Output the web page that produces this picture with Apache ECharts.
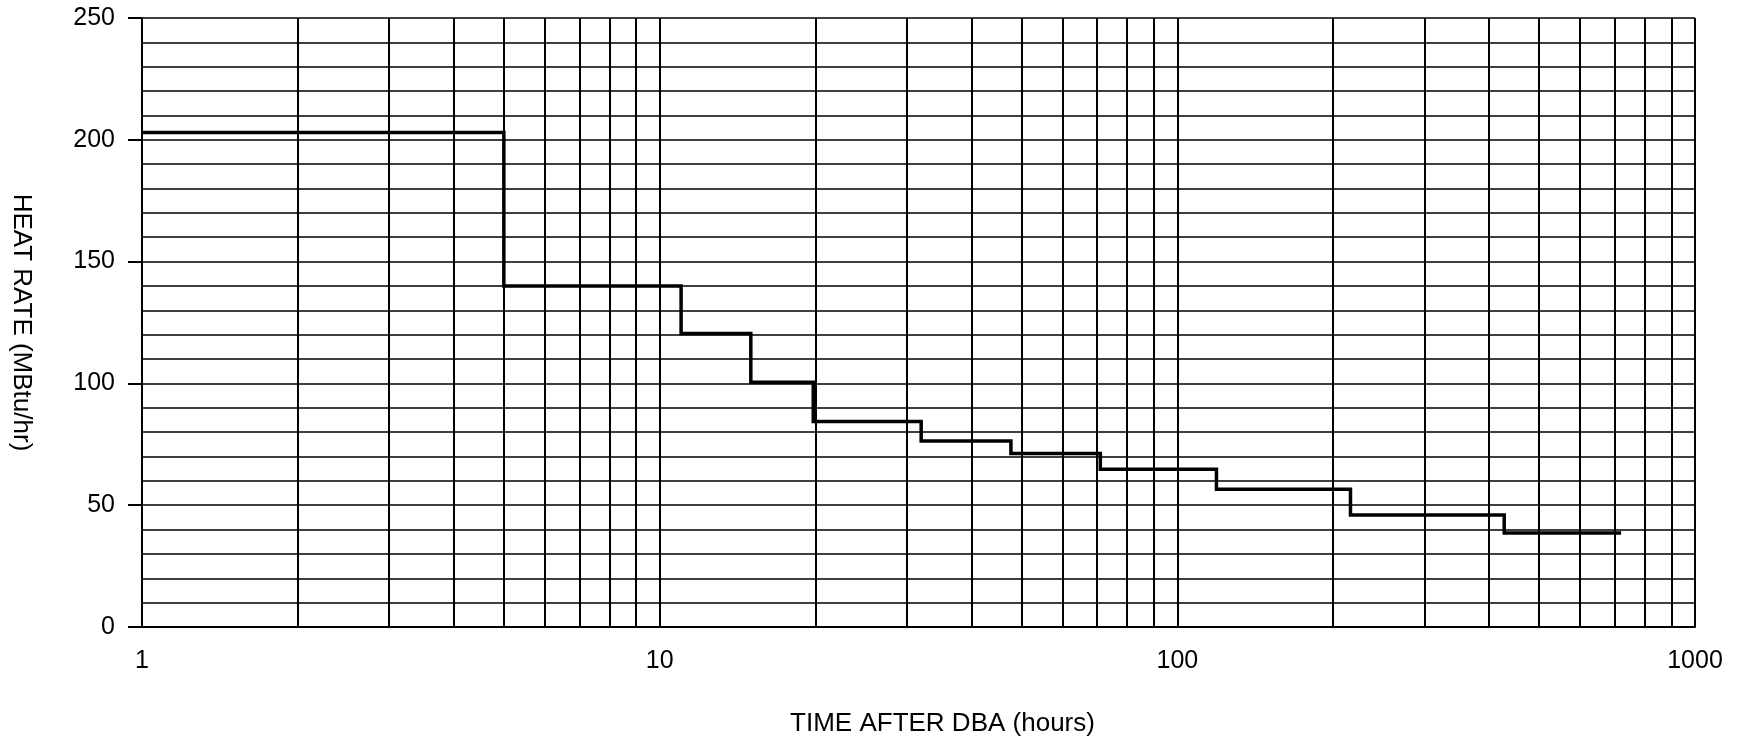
<!DOCTYPE html>
<html><head><meta charset="utf-8">
<script src="https://cdn.jsdelivr.net/npm/echarts@6/dist/echarts.min.js"></script>
<style>html,body{margin:0;padding:0;background:#fff}#c{width:1750px;height:740px}</style>
</head><body><div id="c"></div>
<script>
// Step breakpoints (hours) and heat-rate levels (MBtu/hr) held between them
const stepTimes = [1, 5, 11, 15, 19.8, 32, 47.7, 71, 119, 216, 428, 720];
const heatRates = [203, 140, 120.5, 100.5, 84.4, 76.4, 71.2, 64.8, 56.5, 46, 38.6];
// Intermediate log-grid values (decade lines come from the axis itself)
const xMinorGrid = [2,3,4,5,6,7,8,9,20,30,40,50,60,70,80,90,200,300,400,500,600,700,800,900];
const xName = 'TIME AFTER DBA (hours)';
const yName = 'HEAT RATE (MBtu/hr)';

const pts = [];
for (let i = 0; i < heatRates.length; i++) {
  pts.push([stepTimes[i], heatRates[i]]);
  pts.push([stepTimes[i + 1], heatRates[i]]);
}
const font = 'Liberation Sans, Arial, sans-serif';
const chart = echarts.init(document.getElementById('c'), null, {renderer: 'canvas'});
chart.setOption({
  animation: false,
  backgroundColor: '#fff',
  grid: {left: 142, right: 55, top: 18, bottom: 113, containLabel: false, outerBoundsMode: 'none'},
  xAxis: {
    type: 'log', logBase: 10, min: 1, max: 1000,
    axisLine: {show: true, lineStyle: {color: '#000', width: 2}},
    axisTick: {show: false},
    axisLabel: {color: '#000', fontSize: 25, fontFamily: font, margin: 22,
      formatter: v => String(Math.round(v))},
    splitLine: {show: true, lineStyle: {color: '#000', width: 2}},
    name: xName, nameLocation: 'middle', nameGap: 84,
    nameTextStyle: {color: '#000', fontSize: 26, fontFamily: font, padding: [0, 0, 0, 48]}
  },
  yAxis: {
    type: 'value', min: 0, max: 250, interval: 50,
    axisLine: {show: true, lineStyle: {color: '#000', width: 2}},
    axisTick: {show: true, length: 14, lineStyle: {color: '#000', width: 2}},
    axisLabel: {color: '#000', fontSize: 25, fontFamily: font, margin: 27},
    splitLine: {show: true, lineStyle: {color: '#000', width: 1.6}},
    minorTick: {show: false, splitNumber: 5},
    minorSplitLine: {show: true, lineStyle: {color: '#000', width: 1.5}},
    name: yName, nameLocation: 'middle', nameRotate: -90, nameGap: 108,
    nameTextStyle: {color: '#000', fontSize: 26, fontFamily: font}
  },
  series: [
    {
      type: 'line', data: [], z: 1, silent: true,
      markLine: {
        silent: true, symbol: ['none', 'none'], animation: false,
        label: {show: false},
        lineStyle: {color: '#000', width: 2, type: 'solid'},
        emphasis: {disabled: true},
        data: xMinorGrid.map(v => ({xAxis: v}))
      }
    },
    {
      type: 'line', data: pts, z: 5, showSymbol: false, silent: true,
      lineStyle: {color: '#000', width: 3.5, join: 'miter', cap: 'butt'}
    }
  ]
});
</script>
</body></html>
